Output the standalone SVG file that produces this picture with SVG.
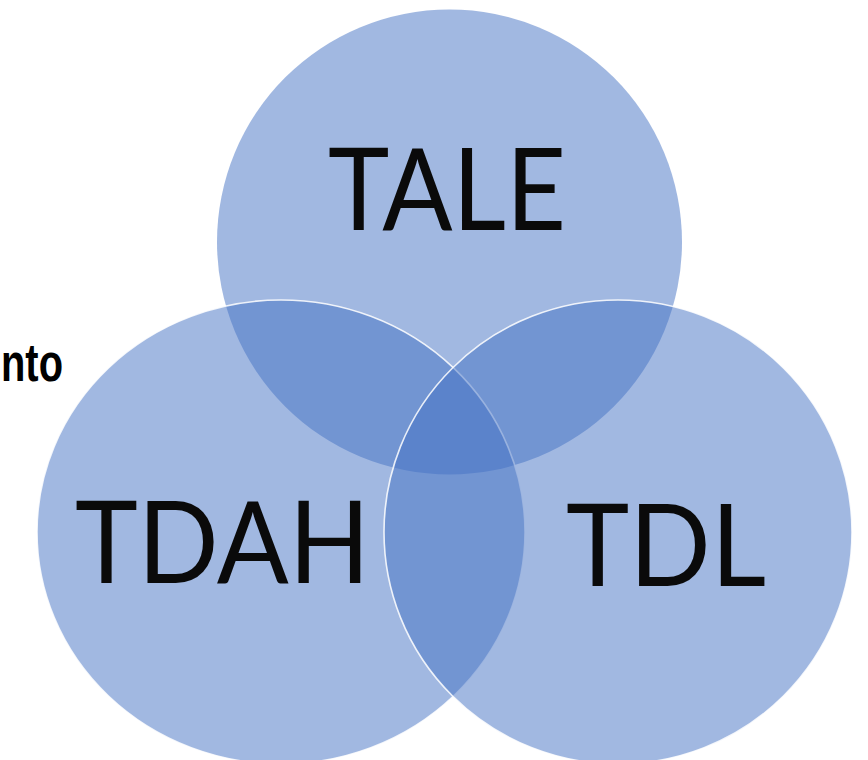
<svg xmlns="http://www.w3.org/2000/svg" width="868" height="760" viewBox="0 0 868 760">
<style>
.c{fill:#4472C4;fill-opacity:0.5}
.s{stroke:#ffffff;stroke-width:1.6;stroke-opacity:0.85}
.lbl{font-family:Lato,"Liberation Sans",sans-serif;font-size:114px;fill:#0a0a0a}
.side{font-family:"Liberation Sans",Arial,sans-serif;font-weight:bold;font-size:53px;fill:#000}
</style>
<rect width="868" height="760" fill="#ffffff"/>
<text class="side" x="1" y="381" textLength="62" lengthAdjust="spacingAndGlyphs">nto</text>
<g id="tale">
<circle class="c" cx="449.5" cy="242" r="232.5"/>
</g>
<g id="tdah">
<ellipse class="c s" cx="281" cy="532" rx="244" ry="232"/>
</g>
<g id="tdl">
<ellipse class="c s" cx="618" cy="532" rx="234" ry="232"/>
</g>
<g id="connectors"></g>
<g id="labels">
<text class="lbl" x="328" y="230" textLength="238" lengthAdjust="spacingAndGlyphs">TALE</text>
<text class="lbl" x="75" y="583" textLength="295" lengthAdjust="spacingAndGlyphs">TDAH</text>
<text class="lbl" x="566" y="586" textLength="200" lengthAdjust="spacingAndGlyphs">TDL</text>
</g>
</svg>
